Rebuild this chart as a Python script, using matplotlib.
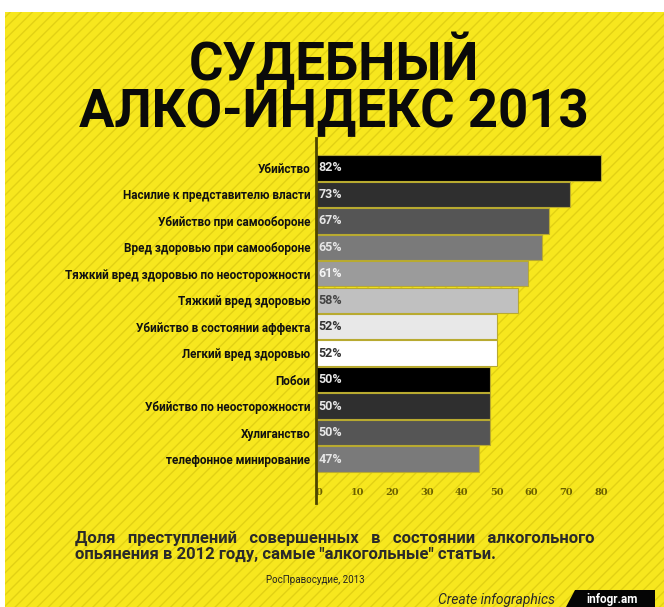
import matplotlib
matplotlib.use("Agg")
import matplotlib.pyplot as plt
from matplotlib.patches import Rectangle, Polygon

# Data
categories = ["Убийство", "Насилие к представителю власти", "Убийство при самообороне",
              "Вред здоровью при самообороне", "Тяжкий вред здоровью по неосторожности",
              "Тяжкий вред здоровью", "Убийство в состоянии аффекта", "Легкий вред здоровью",
              "Побои", "Убийство по неосторожности", "Хулиганство", "телефонное минирование"]
values = [82, 73, 67, 65, 61, 58, 52, 52, 50, 50, 50, 47]
bar_colors = ["#000000", "#2f2f2f", "#555555", "#7a7a7a", "#9b9b9b", "#c0c0c0",
              "#e8e8e8", "#ffffff", "#000000", "#2f2f2f", "#555555", "#7a7a7a"]
text_colors = ["#e6e6e6", "#e6e6e6", "#e6e6e6", "#e6e6e6", "#f4f4f4", "#444444",
               "#333333", "#333333", "#e6e6e6", "#e6e6e6", "#e6e6e6", "#e6e6e6"]
ticks = [0, 10, 20, 30, 40, 50, 60, 70, 80]

plt.rcParams["font.family"] = ["Roboto", "DejaVu Sans"]

W, H = 664, 607
fig = plt.figure(figsize=(W / 100, H / 100), dpi=100)
fig.patch.set_facecolor("white")

# Yellow striped background
plt.rcParams["hatch.linewidth"] = 1.0
bg = Rectangle((5 / W, 0), 1 - 5 / W, 1 - 12 / H, transform=fig.transFigure,
               facecolor="#f7e71e", edgecolor="#e2d114", hatch="///", linewidth=0, zorder=-5)
fig.patches.append(bg)

# Title
fig.text(334 / W, 1 - 62 / H, "СУДЕБНЫЙ", ha="center", va="center", fontsize=38,
         fontweight="bold", color="#0a0a0a")
fig.text(334 / W, 1 - 113 / H, "АЛКО-ИНДЕКС 2013", ha="center", va="center", fontsize=38,
         fontweight="bold", color="#0a0a0a")

# Chart axes
ax = fig.add_axes([316 / W, 1 - 503 / H, 324 / W, 365 / H])
ax.patch.set_alpha(0)
y = list(range(len(values)))
ax.barh(y, values, height=0.96, color=bar_colors, edgecolor="#b8aa30", linewidth=0.8)
for i, v in enumerate(values):
    ax.text(0.8, i, f"{v}%", va="center", ha="left", fontsize=9, fontweight="bold",
            color=text_colors[i])
ax.set_xlim(0, 93.2)
ax.set_ylim(12.66, -1.13)
ax.set_yticks(y)
ax.set_yticklabels(categories, fontsize=8.5, fontweight="bold", color="#111111")
ax.set_xticks(ticks)
ax.set_xticklabels([str(t) for t in ticks], fontsize=7, fontweight="bold",
                   family="DejaVu Serif", color="#6b6000", ha="left")
ax.tick_params(axis="x", length=0, pad=-11)
ax.tick_params(axis="y", length=0, pad=4)
for s in ["top", "right", "bottom"]:
    ax.spines[s].set_visible(False)
ax.spines["left"].set_color("#4d4500")
ax.spines["left"].set_linewidth(2)

# Subtitle and source
fig.text(75 / W, 1 - 538 / H, "Доля   преступлений   совершенных   в   состоянии   алкогольного",
         ha="left", va="center", fontsize=12, fontweight="bold", color="#2a2a2a")
fig.text(75 / W, 1 - 554 / H, "опьянения в 2012 году, самые \"алкогольные\" статьи.",
         ha="left", va="center", fontsize=12, fontweight="bold", color="#2a2a2a")
fig.text(315 / W, 1 - 580 / H, "РосПравосудие, 2013", ha="center", va="center",
         fontsize=7, color="#222222")

# Footer badge
fig.text(555 / W, 1 - 600 / H, "Create infographics", ha="right", va="center",
         fontsize=10, style="italic", color="#2a2a2a")
badge = Polygon([(566 / W, 0), (575 / W, 1 - 590 / H), (655 / W, 1 - 590 / H), (655 / W, 0)],
                closed=True, transform=fig.transFigure, facecolor="#050505", zorder=2)
fig.patches.append(badge)
fig.text(612 / W, 1 - 599 / H, "infogr.am", ha="center", va="center", fontsize=8.5,
         fontweight="bold", color="white", zorder=3)

fig.savefig("out.png", dpi=100)
